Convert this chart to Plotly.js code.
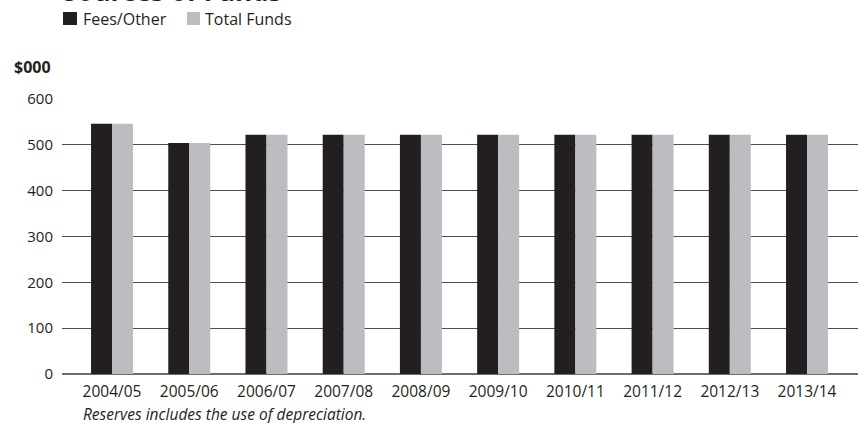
<!DOCTYPE html>
<html><head><meta charset="utf-8">
<script src="https://cdn.plot.ly/plotly-3.0.1.min.js"></script>
<style>html,body{margin:0;padding:0;background:#fff}</style>
</head><body><div id="chart" style="width:866px;height:423px"></div>
<script>
const categories = ["2004/05","2005/06","2006/07","2007/08","2008/09","2009/10","2010/11","2011/12","2012/13","2013/14"];
const feesOther = [546,504,522,522,522,522,522,522,522,522];
const totalFunds = [546,504,522,522,522,522,522,522,522,522];
const yTicks = [0,100,200,300,400,500,600];
const seriesNames = ["Fees/Other","Total Funds"];
const seriesColors = ["#231f20","#bcbdc0"];

const FONT = "'Open Sans', 'Noto Sans', sans-serif";
const ink = "#231f20";

// plot area geometry (pixels)
const L = 62, R = 8, T = 99, B = 49, W = 866, H = 423;
const PW = W - L - R, PH = H - T - B;
const px = x => (x - L) / PW;          // pixel x -> paper
const py = y => (H - B - y) / PH;      // pixel y -> paper

const traces = [
  {type:"bar", name:seriesNames[0], x:categories, y:feesOther, marker:{color:seriesColors[0]}, showlegend:false},
  {type:"bar", name:seriesNames[1], x:categories, y:totalFunds, marker:{color:seriesColors[1]}, showlegend:false}
];

const layout = {
  width:W, height:H,
  margin:{l:L, r:R, t:T, b:B, autoexpand:false},
  paper_bgcolor:"#fff", plot_bgcolor:"#fff",
  barmode:"group", bargap:0.456, bargroupgap:0,
  font:{family:FONT, color:ink, size:15},
  xaxis:{type:"category", range:[-0.648, 9.66], showgrid:false, zeroline:false, showline:false,
         ticks:"", ticklabelstandoff:6, tickfont:{size:15.5, color:ink}, fixedrange:true},
  yaxis:{range:[0,600], tickvals:yTicks, ticktext:yTicks.map(String), showgrid:true,
         gridcolor:"#4d4d4d", gridwidth:1, zeroline:true, zerolinecolor:"#6d6d6d", zerolinewidth:2,
         showline:false, ticks:"", ticklabelstandoff:8, tickfont:{size:15, color:ink}, fixedrange:true},
  showlegend:false,
  shapes:[
    {type:"rect", xref:"paper", yref:"paper", x0:px(63), x1:px(77), y0:py(25), y1:py(12),
     fillcolor:seriesColors[0], line:{width:0}},
    {type:"rect", xref:"paper", yref:"paper", x0:px(187), x1:px(200), y0:py(25), y1:py(12),
     fillcolor:seriesColors[1], line:{width:0}}
  ],
  annotations:[
    {text:"<b>Sources of Funds</b>", xref:"paper", yref:"paper", x:px(61), xanchor:"left",
     y:py(11), yanchor:"bottom", showarrow:false, font:{size:26, color:ink}},
    {text:seriesNames[0], xref:"paper", yref:"paper", x:px(81), xanchor:"left",
     y:py(19), yanchor:"middle", showarrow:false, font:{size:16, color:ink}},
    {text:seriesNames[1], xref:"paper", yref:"paper", x:px(203), xanchor:"left",
     y:py(19), yanchor:"middle", showarrow:false, font:{size:16, color:ink}},
    {text:"<b>$000</b>", xref:"paper", yref:"paper", x:px(53), xanchor:"right",
     y:py(67), yanchor:"middle", showarrow:false, font:{size:16, color:ink}},
    {text:"<i>Reserves includes the use of depreciation.</i>", xref:"paper", yref:"paper", x:px(81), xanchor:"left",
     y:py(414), yanchor:"middle", showarrow:false, font:{size:15.5, color:ink}}
  ]
};
Plotly.newPlot("chart", traces, layout, {displayModeBar:false, staticPlot:true});
</script></body></html>
